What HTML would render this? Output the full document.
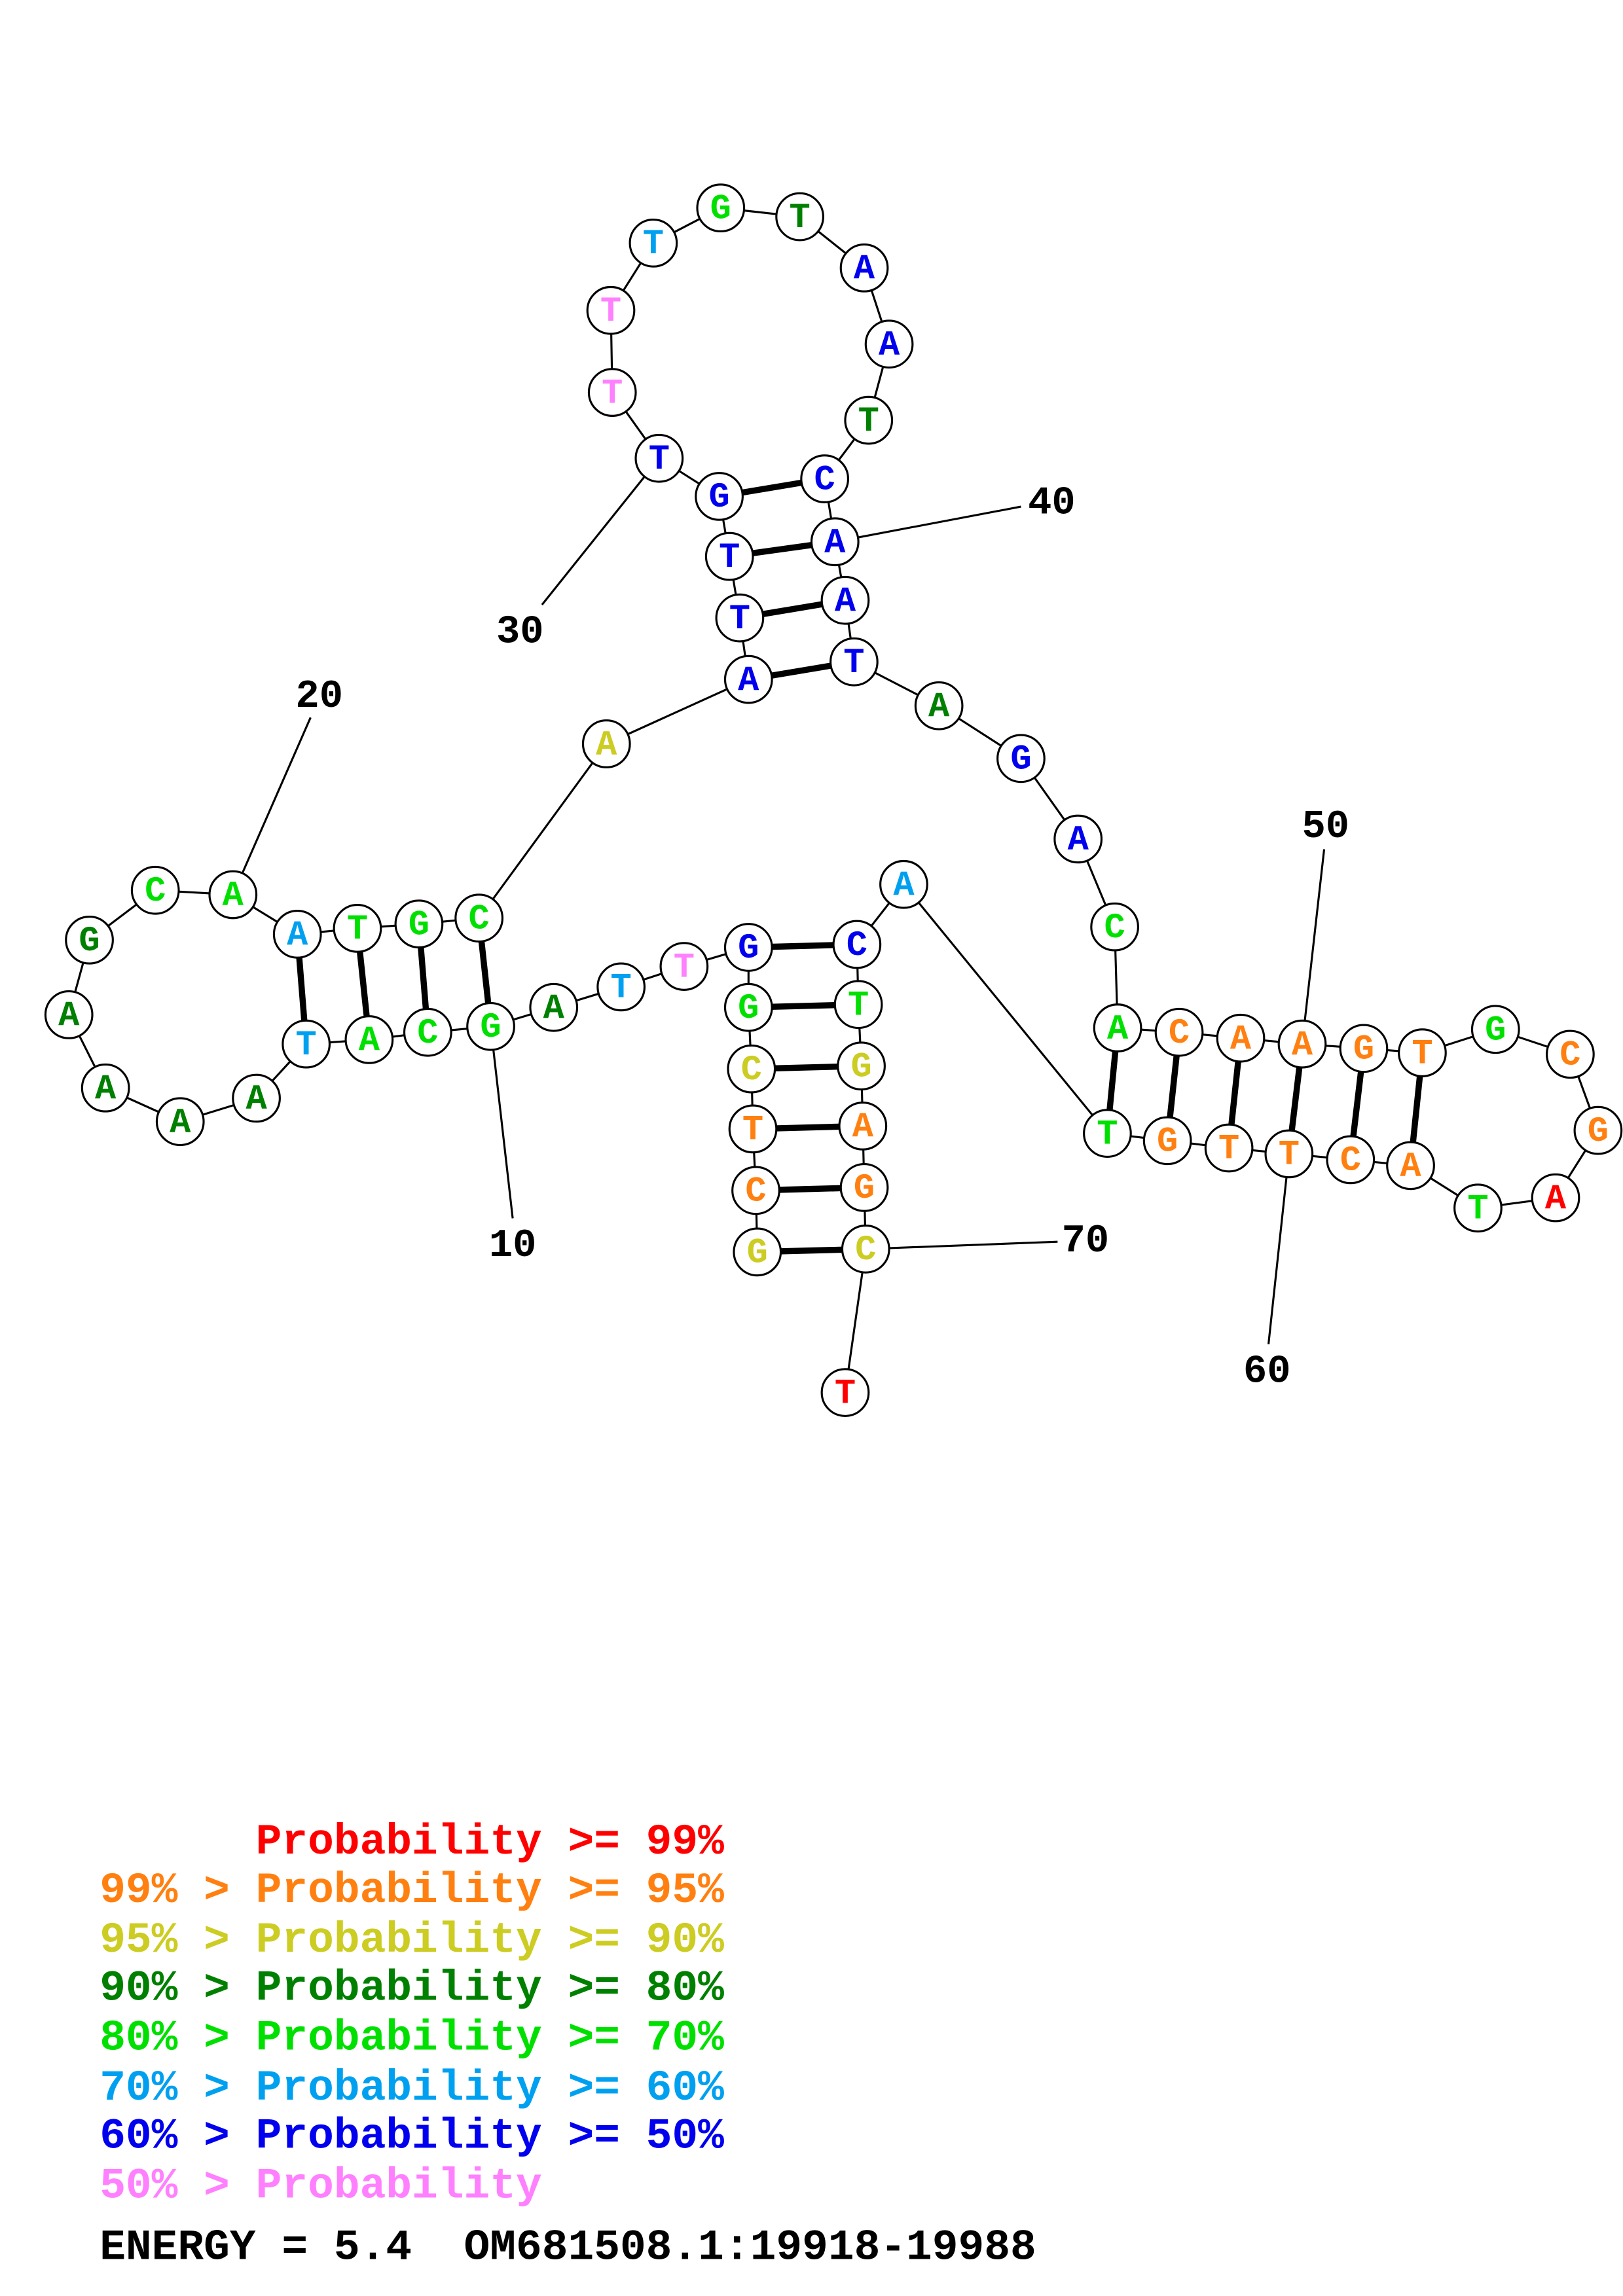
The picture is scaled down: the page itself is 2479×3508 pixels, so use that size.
<!DOCTYPE html>
<html><head><meta charset="utf-8"><style>
html,body{margin:0;padding:0;background:#fff}
svg{display:block}
.n circle{fill:#fff;stroke:#000;stroke-width:1.4}
.n text,.l{font-family:"Liberation Mono",monospace;font-weight:bold;text-anchor:middle;dominant-baseline:central}
.n text{font-size:24px}
.l{font-size:27px;fill:#000}
.lg{font-family:"Liberation Mono",monospace;font-weight:bold;font-size:29.6px;white-space:pre;dominant-baseline:central}
.R{fill:#ff0000}.O{fill:#ff8010}.Y{fill:#cccc22}.D{fill:#008000}.G{fill:#00e000}.C{fill:#00a0f0}.B{fill:#0000ee}.P{fill:#ff80ff}
</style></head><body>
<svg width="2479" height="3508" viewBox="0 0 1108 1568" xmlns="http://www.w3.org/2000/svg">
<g stroke="#000" stroke-width="1.4" fill="none">
<polyline points="517,855 516,813 514,771 513,730 511,688 511,647 467,660 424,674 378,688 335,701 292,705 252,710 209,713 175,750 123,766 72,743 47,693 61,642 106,608 159,611 203,638 244,634 286,631 327,627 414,508 511,464 505,422 498,380 491,339 450,313 418,268 417,212 446,166 492,142 546,148 590,183 607,235 593,287 563,327 570,370 577,410 583,452 641,482 697,518 736,573 761,633 763,702 805,705 847,709 889,713 931,716 971,719 1021,703 1072,720 1091,772 1062,818 1009,825 963,796 922,792 880,788 839,784 797,779 756,774 617,604 585,645 586,686 588,728 589,769 590,811 591,853 577,951"/>
<line x1="335" y1="701" x2="350" y2="832"/>
<line x1="159" y1="611" x2="212" y2="490"/>
<line x1="450" y1="313" x2="370" y2="413"/>
<line x1="570" y1="370" x2="697" y2="346"/>
<line x1="889" y1="713" x2="904" y2="580"/>
<line x1="880" y1="788" x2="866" y2="918"/>
<line x1="591" y1="853" x2="722" y2="848"/>
</g>
<g stroke="#000" stroke-width="4.2">
<line x1="517" y1="855" x2="591" y2="853"/><line x1="516" y1="813" x2="590" y2="811"/><line x1="514" y1="771" x2="589" y2="769"/><line x1="513" y1="730" x2="588" y2="728"/><line x1="511" y1="688" x2="586" y2="686"/><line x1="511" y1="647" x2="585" y2="645"/>
<line x1="335" y1="701" x2="327" y2="627"/><line x1="292" y1="705" x2="286" y2="631"/><line x1="252" y1="710" x2="244" y2="634"/><line x1="209" y1="713" x2="203" y2="638"/>
<line x1="511" y1="464" x2="583" y2="452"/><line x1="505" y1="422" x2="577" y2="410"/><line x1="498" y1="380" x2="570" y2="370"/><line x1="491" y1="339" x2="563" y2="327"/>
<line x1="763" y1="702" x2="756" y2="774"/><line x1="805" y1="705" x2="797" y2="779"/><line x1="847" y1="709" x2="839" y2="784"/><line x1="889" y1="713" x2="880" y2="788"/><line x1="931" y1="716" x2="922" y2="792"/><line x1="971" y1="719" x2="963" y2="796"/>
</g>
<g class="n">
<circle cx="517" cy="855" r="16"/><text x="517" y="856" class="Y">G</text>
<circle cx="516" cy="813" r="16"/><text x="516" y="814" class="O">C</text>
<circle cx="514" cy="771" r="16"/><text x="514" y="772" class="O">T</text>
<circle cx="513" cy="730" r="16"/><text x="513" y="731" class="Y">C</text>
<circle cx="511" cy="688" r="16"/><text x="511" y="689" class="G">G</text>
<circle cx="511" cy="647" r="16"/><text x="511" y="648" class="B">G</text>
<circle cx="467" cy="660" r="16"/><text x="467" y="661" class="P">T</text>
<circle cx="424" cy="674" r="16"/><text x="424" y="675" class="C">T</text>
<circle cx="378" cy="688" r="16"/><text x="378" y="689" class="D">A</text>
<circle cx="335" cy="701" r="16"/><text x="335" y="702" class="G">G</text>
<circle cx="292" cy="705" r="16"/><text x="292" y="706" class="G">C</text>
<circle cx="252" cy="710" r="16"/><text x="252" y="711" class="G">A</text>
<circle cx="209" cy="713" r="16"/><text x="209" y="714" class="C">T</text>
<circle cx="175" cy="750" r="16"/><text x="175" y="751" class="D">A</text>
<circle cx="123" cy="766" r="16"/><text x="123" y="767" class="D">A</text>
<circle cx="72" cy="743" r="16"/><text x="72" y="744" class="D">A</text>
<circle cx="47" cy="693" r="16"/><text x="47" y="694" class="D">A</text>
<circle cx="61" cy="642" r="16"/><text x="61" y="643" class="D">G</text>
<circle cx="106" cy="608" r="16"/><text x="106" y="609" class="G">C</text>
<circle cx="159" cy="611" r="16"/><text x="159" y="612" class="G">A</text>
<circle cx="203" cy="638" r="16"/><text x="203" y="639" class="C">A</text>
<circle cx="244" cy="634" r="16"/><text x="244" y="635" class="G">T</text>
<circle cx="286" cy="631" r="16"/><text x="286" y="632" class="G">G</text>
<circle cx="327" cy="627" r="16"/><text x="327" y="628" class="G">C</text>
<circle cx="414" cy="508" r="16"/><text x="414" y="509" class="Y">A</text>
<circle cx="511" cy="464" r="16"/><text x="511" y="465" class="B">A</text>
<circle cx="505" cy="422" r="16"/><text x="505" y="423" class="B">T</text>
<circle cx="498" cy="380" r="16"/><text x="498" y="381" class="B">T</text>
<circle cx="491" cy="339" r="16"/><text x="491" y="340" class="B">G</text>
<circle cx="450" cy="313" r="16"/><text x="450" y="314" class="B">T</text>
<circle cx="418" cy="268" r="16"/><text x="418" y="269" class="P">T</text>
<circle cx="417" cy="212" r="16"/><text x="417" y="213" class="P">T</text>
<circle cx="446" cy="166" r="16"/><text x="446" y="167" class="C">T</text>
<circle cx="492" cy="142" r="16"/><text x="492" y="143" class="G">G</text>
<circle cx="546" cy="148" r="16"/><text x="546" y="149" class="D">T</text>
<circle cx="590" cy="183" r="16"/><text x="590" y="184" class="B">A</text>
<circle cx="607" cy="235" r="16"/><text x="607" y="236" class="B">A</text>
<circle cx="593" cy="287" r="16"/><text x="593" y="288" class="D">T</text>
<circle cx="563" cy="327" r="16"/><text x="563" y="328" class="B">C</text>
<circle cx="570" cy="370" r="16"/><text x="570" y="371" class="B">A</text>
<circle cx="577" cy="410" r="16"/><text x="577" y="411" class="B">A</text>
<circle cx="583" cy="452" r="16"/><text x="583" y="453" class="B">T</text>
<circle cx="641" cy="482" r="16"/><text x="641" y="483" class="D">A</text>
<circle cx="697" cy="518" r="16"/><text x="697" y="519" class="B">G</text>
<circle cx="736" cy="573" r="16"/><text x="736" y="574" class="B">A</text>
<circle cx="761" cy="633" r="16"/><text x="761" y="634" class="G">C</text>
<circle cx="763" cy="702" r="16"/><text x="763" y="703" class="G">A</text>
<circle cx="805" cy="705" r="16"/><text x="805" y="706" class="O">C</text>
<circle cx="847" cy="709" r="16"/><text x="847" y="710" class="O">A</text>
<circle cx="889" cy="713" r="16"/><text x="889" y="714" class="O">A</text>
<circle cx="931" cy="716" r="16"/><text x="931" y="717" class="O">G</text>
<circle cx="971" cy="719" r="16"/><text x="971" y="720" class="O">T</text>
<circle cx="1021" cy="703" r="16"/><text x="1021" y="704" class="G">G</text>
<circle cx="1072" cy="720" r="16"/><text x="1072" y="721" class="O">C</text>
<circle cx="1091" cy="772" r="16"/><text x="1091" y="773" class="O">G</text>
<circle cx="1062" cy="818" r="16"/><text x="1062" y="819" class="R">A</text>
<circle cx="1009" cy="825" r="16"/><text x="1009" y="826" class="G">T</text>
<circle cx="963" cy="796" r="16"/><text x="963" y="797" class="O">A</text>
<circle cx="922" cy="792" r="16"/><text x="922" y="793" class="O">C</text>
<circle cx="880" cy="788" r="16"/><text x="880" y="789" class="O">T</text>
<circle cx="839" cy="784" r="16"/><text x="839" y="785" class="O">T</text>
<circle cx="797" cy="779" r="16"/><text x="797" y="780" class="O">G</text>
<circle cx="756" cy="774" r="16"/><text x="756" y="775" class="G">T</text>
<circle cx="617" cy="604" r="16"/><text x="617" y="605" class="C">A</text>
<circle cx="585" cy="645" r="16"/><text x="585" y="646" class="B">C</text>
<circle cx="586" cy="686" r="16"/><text x="586" y="687" class="G">T</text>
<circle cx="588" cy="728" r="16"/><text x="588" y="729" class="Y">G</text>
<circle cx="589" cy="769" r="16"/><text x="589" y="770" class="O">A</text>
<circle cx="590" cy="811" r="16"/><text x="590" y="812" class="O">G</text>
<circle cx="591" cy="853" r="16"/><text x="591" y="854" class="Y">C</text>
<circle cx="577" cy="951" r="16"/><text x="577" y="952" class="R">T</text>
</g>
<text class="l" x="350" y="851">10</text>
<text class="l" x="218" y="476">20</text>
<text class="l" x="355" y="432">30</text>
<text class="l" x="718" y="344">40</text>
<text class="l" x="905" y="565">50</text>
<text class="l" x="865" y="937">60</text>
<text class="l" x="741" y="848">70</text>
<text class="lg R" x="68" y="1258">      Probability &gt;= 99%</text>
<text class="lg O" x="68" y="1291">99% &gt; Probability &gt;= 95%</text>
<text class="lg Y" x="68" y="1325">95% &gt; Probability &gt;= 90%</text>
<text class="lg D" x="68" y="1358">90% &gt; Probability &gt;= 80%</text>
<text class="lg G" x="68" y="1392">80% &gt; Probability &gt;= 70%</text>
<text class="lg C" x="68" y="1426">70% &gt; Probability &gt;= 60%</text>
<text class="lg B" x="68" y="1459">60% &gt; Probability &gt;= 50%</text>
<text class="lg P" x="68" y="1493">50% &gt; Probability</text>
<text class="lg" fill="#000" x="68" y="1535">ENERGY = 5.4  OM681508.1:19918-19988</text>
</svg>
</body></html>
